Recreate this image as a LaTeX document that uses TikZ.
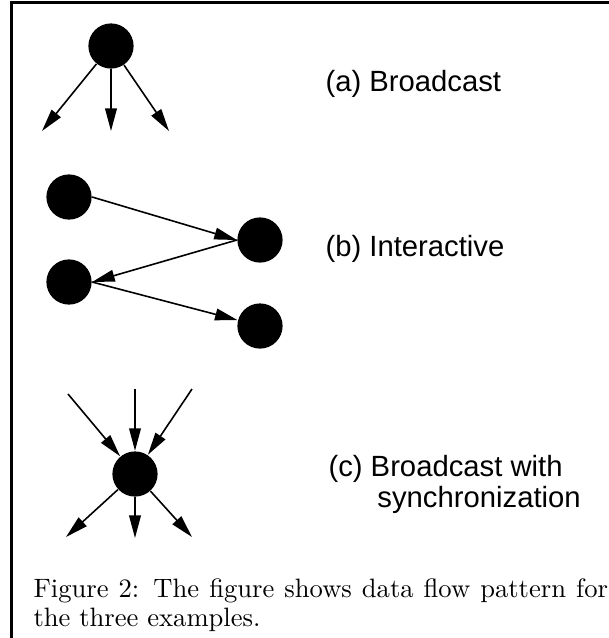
\documentclass[tikz,border=0pt]{standalone}
\usepackage{fontspec}
\newfontfamily\labelfont{Liberation Sans}
\usetikzlibrary{arrows.meta,positioning}

\begin{document}
\begin{tikzpicture}[x=0.376pt, y=-0.376pt,
	proc/.style={circle, fill=black, minimum size=17pt, inner sep=0pt},
	flow/.style={-{Triangle[length=8.5pt,width=4.4pt]}, line width=0.6pt},
	tag/.style={font=\labelfont\fontsize{11}{11.3}\selectfont, anchor=base west, inner sep=0pt, align=left}]
	\useasboundingbox (0,0) rectangle (609,638);
	\draw[line width=1pt] (11.5,638) -- (11.5,2.5) -- (609,2.5);

	% (a) one process sending to three
	\node[proc] (a) at (111,46) {};
	\coordinate (a1) at (42,131);
	\coordinate (a2) at (111,131);
	\coordinate (a3) at (169,131);
	\foreach \i in {1,2,3}
		\draw[flow] (a) -- (a\i);
	\node[tag] (la) at (325,91) {(a) Broadcast};

	% (b) messages going back and forth
	\node[proc] (b1) at (69,197) {};
	\node[proc] (b2) at (260,240) {};
	\node[proc] (b3) at (69,282) {};
	\node[proc] (b4) at (260,326) {};
	\draw[flow] (b1.east) -- (b2.west);
	\draw[flow] (b2.west) -- (b3.east);
	\draw[flow] (b3.east) -- (b4);
	\node[tag] (lb) at (325,256) {(b) Interactive};

	% (c) gather, then send out again
	\node[proc] (c) at (135,474) {};
	\coordinate (ci1) at (68,394);
	\coordinate (ci2) at (135,389);
	\coordinate (ci3) at (192,389);
	\coordinate (co1) at (66,537);
	\coordinate (co2) at (135,538);
	\coordinate (co3) at (192,537);
	\foreach \i in {1,2,3} {
		\draw[flow] (ci\i) -- (c);
		\draw[flow] (c) -- (co\i);
	}
	\node[tag] (lc) at (328,507) {(c) Broadcast with\\\hspace*{18.4pt}synchronization};

	\node[anchor=base west, text width=216pt, align=justify, inner sep=0pt,
		font=\fontsize{10}{11}\selectfont] (cap) at (33,597)
		{Figure 2: The figure shows data flow pattern for the three examples.};
\end{tikzpicture}
\end{document}
